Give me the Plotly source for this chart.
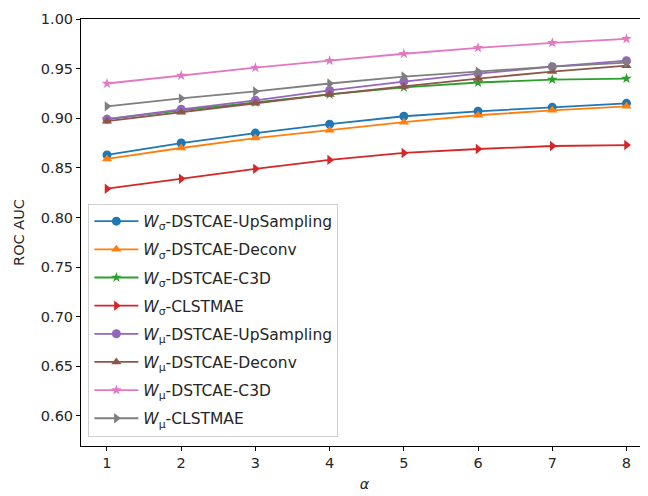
import plotly.graph_objects as go

alpha = [1, 2, 3, 4, 5, 6, 7, 8]

series_names = [
    "<i>W</i><sub>σ</sub>-DSTCAE-UpSampling",
    "<i>W</i><sub>σ</sub>-DSTCAE-Deconv",
    "<i>W</i><sub>σ</sub>-DSTCAE-C3D",
    "<i>W</i><sub>σ</sub>-CLSTMAE",
    "<i>W</i><sub>μ</sub>-DSTCAE-UpSampling",
    "<i>W</i><sub>μ</sub>-DSTCAE-Deconv",
    "<i>W</i><sub>μ</sub>-DSTCAE-C3D",
    "<i>W</i><sub>μ</sub>-CLSTMAE",
]

sigma_upsampling = [0.863, 0.875, 0.885, 0.894, 0.902, 0.907, 0.911, 0.915]
sigma_deconv = [0.859, 0.870, 0.880, 0.888, 0.896, 0.903, 0.908, 0.912]
sigma_c3d = [0.899, 0.908, 0.916, 0.924, 0.931, 0.936, 0.939, 0.940]
sigma_clstmae = [0.829, 0.839, 0.849, 0.858, 0.865, 0.869, 0.872, 0.873]
mu_upsampling = [0.899, 0.909, 0.918, 0.928, 0.937, 0.945, 0.952, 0.958]
mu_deconv = [0.897, 0.906, 0.915, 0.924, 0.932, 0.940, 0.947, 0.953]
mu_c3d = [0.935, 0.943, 0.951, 0.958, 0.965, 0.971, 0.976, 0.980]
mu_clstmae = [0.912, 0.920, 0.927, 0.935, 0.942, 0.947, 0.952, 0.956]

values = [sigma_upsampling, sigma_deconv, sigma_c3d, sigma_clstmae,
          mu_upsampling, mu_deconv, mu_c3d, mu_clstmae]

colors = ["#1f77b4", "#ff7f0e", "#2ca02c", "#d62728",
          "#9467bd", "#8c564b", "#e377c2", "#7f7f7f"]
symbols = ["circle", "triangle-up", "star", "triangle-right",
           "circle", "triangle-up", "star", "triangle-right"]
sizes = [9, 9, 8, 9, 9, 9, 8, 9]

fig = go.Figure()
for i, (name, vals) in enumerate(zip(series_names, values)):
    fig.add_trace(go.Scatter(
        x=alpha, y=vals, name=name, mode="lines+markers",
        line=dict(color=colors[i], width=1.8),
        marker=dict(symbol=symbols[i], size=sizes[i], color=colors[i]),
        legendgroup=f"g{i}",
    ))

# the page body has an 8px margin, so the figure is 8px smaller and the
# margins are shifted to put the axes where the reference has them
fig.update_layout(
    width=640, height=488,
    margin=dict(l=73, r=0, t=11, b=50, autoexpand=False),
    paper_bgcolor="white", plot_bgcolor="white",
    font=dict(family="DejaVu Sans", size=14.5, color="#262626"),
    showlegend=True,
    legend=dict(
        x=0.013, y=0.022, xanchor="left", yanchor="bottom",
        bgcolor="rgba(255,255,255,0.8)", bordercolor="#d0d0d0", borderwidth=1,
        font=dict(size=15.5), traceorder="grouped", tracegroupgap=5,
        itemwidth=44,
    ),
    xaxis=dict(
        range=[0.65, 8.29], tickmode="array", tickvals=alpha,
        ticks="outside", ticklen=4, tickcolor="black",
        showline=True, linecolor="black", linewidth=1, mirror=True,
        showgrid=False, zeroline=False, automargin=False,
        title=dict(text="<i>α</i>", font=dict(size=14.5), standoff=8),
    ),
    yaxis=dict(
        range=[0.5697, 1.0], tickmode="array",
        tickvals=[0.60, 0.65, 0.70, 0.75, 0.80, 0.85, 0.90, 0.95, 1.00],
        tickformat=".2f",
        ticks="outside", ticklen=4, tickcolor="black",
        showline=True, linecolor="black", linewidth=1, mirror=True,
        showgrid=False, zeroline=False, automargin=False,
        title=dict(text="ROC AUC", font=dict(size=14.5), standoff=12),
    ),
)

fig.write_html("out.html")
